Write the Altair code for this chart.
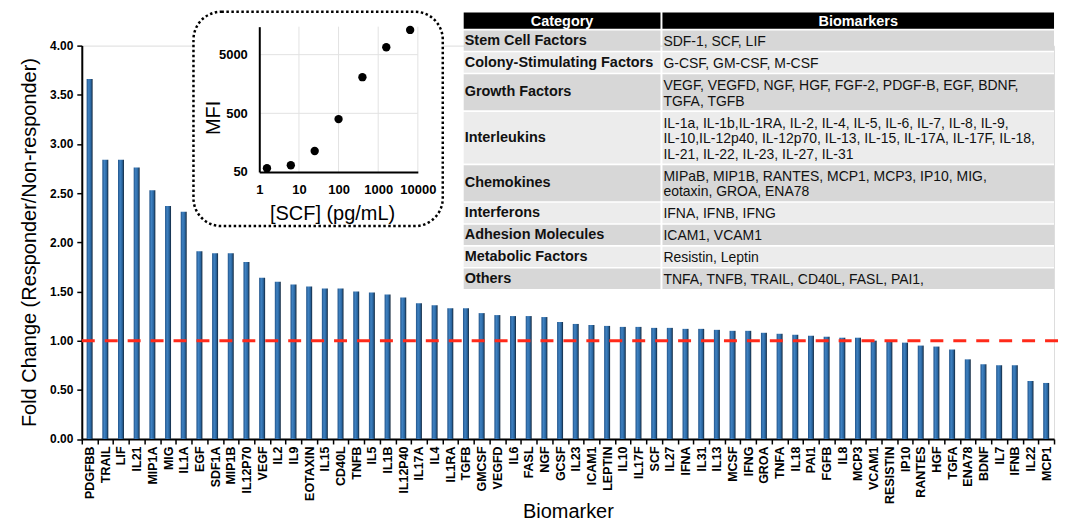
import altair as alt
import pandas as pd

FONT = "Liberation Sans"

# ---------------- main bar data ----------------
biomarkers = ["PDGFBB", "TRAIL", "LIF", "IL21", "MIP1A", "MIG", "IL1A", "EGF", "SDF1A", "MIP1B",
              "IL12P70", "VEGF", "IL2", "IL9", "EOTAXIN", "IL15", "CD40L", "TNFB", "IL5", "IL1B",
              "IL12P40", "IL17A", "IL4", "IL1RA", "TGFB", "GMCSF", "VEGFD", "IL6", "FASL", "NGF",
              "GCSF", "IL23", "ICAM1", "LEPTIN", "IL10", "IL17F", "SCF", "IL27", "IFNA", "IL31",
              "IL13", "MCSF", "IFNG", "GROA", "TNFA", "IL18", "PAI1", "FGFB", "IL8", "MCP3",
              "VCAM1", "RESISTIN", "IP10", "RANTES", "HGF", "TGFA", "ENA78", "BDNF", "IL7", "IFNB",
              "IL22", "MCP1"]
fold_change = [3.66, 2.84, 2.84, 2.76, 2.53, 2.37, 2.31, 1.91, 1.89, 1.89,
               1.80, 1.64, 1.60, 1.57, 1.55, 1.53, 1.53, 1.50, 1.49, 1.47,
               1.44, 1.38, 1.36, 1.33, 1.33, 1.28, 1.26, 1.25, 1.25, 1.24,
               1.19, 1.17, 1.16, 1.15, 1.14, 1.14, 1.13, 1.13, 1.12, 1.12,
               1.11, 1.10, 1.10, 1.08, 1.07, 1.06, 1.05, 1.04, 1.03, 1.03,
               1.00, 1.00, 0.98, 0.95, 0.94, 0.91, 0.81, 0.76, 0.75, 0.75,
               0.59, 0.57]
y_ticks = [0, 0.5, 1.0, 1.5, 2.0, 2.5, 3.0, 3.5, 4.0]
reference_level = [1.0]

# ---------------- inset data ----------------
scf_conc = [1.5625, 6.25, 25, 100, 400, 1600, 6400]
mfi = [58, 65, 114, 398, 2064, 6680, 13200]
inset_x_ticks = [1, 10, 100, 1000, 10000]
inset_y_ticks = [50, 500, 5000]
inset_x_grid = [10, 100, 1000, 10000]
inset_y_grid = [500, 5000]

# ---------------- table data ----------------
table_header = ["Category", "Biomarkers"]
table_categories = ["Stem Cell Factors", "Colony-Stimulating Factors", "Growth Factors",
                    "Interleukins", "Chemokines", "Interferons", "Adhesion Molecules",
                    "Metabolic Factors", "Others"]
table_biomarkers = [
    "SDF-1, SCF, LIF",
    "G-CSF, GM-CSF, M-CSF",
    "VEGF, VEGFD, NGF, HGF, FGF-2, PDGF-B, EGF, BDNF,\nTGFA, TGFB",
    "IL-1a, IL-1b,IL-1RA, IL-2,  IL-4, IL-5, IL-6, IL-7, IL-8, IL-9,\nIL-10,IL-12p40, IL-12p70, IL-13, IL-15, IL-17A, IL-17F, IL-18,\nIL-21, IL-22, IL-23, IL-27, IL-31",
    "MIPaB, MIP1B, RANTES, MCP1, MCP3, IP10, MIG,\neotaxin, GROA, ENA78",
    "IFNA, IFNB, IFNG",
    "ICAM1, VCAM1",
    "Resistin, Leptin",
    "TNFA, TNFB, TRAIL, CD40L, FASL, PAI1,",
]

# =============== main chart ===============
df = pd.DataFrame({"Biomarker": biomarkers, "FC": fold_change})

grad = alt.Gradient(
    gradient="linear",
    stops=[alt.GradientStop(color="#22548a", offset=0),
           alt.GradientStop(color="#3f82c2", offset=0.35),
           alt.GradientStop(color="#2a66a0", offset=0.7),
           alt.GradientStop(color="#122539", offset=1)],
    x1=0, x2=1, y1=0, y2=0)

bars = alt.Chart(df).mark_bar(size=6, color=grad).encode(
    x=alt.X("Biomarker:N", sort=None,
            scale=alt.Scale(paddingInner=0, paddingOuter=0),
            axis=alt.Axis(orient="bottom", title="Biomarker", labelAngle=-90,
                          labelFont=FONT, labelFontSize=12.5, labelFontWeight="bold",
                          labelColor="black", labelPadding=2, tickBand="extent",
                          tickSize=5, tickColor="black", tickWidth=1.5,
                          domainColor="black", domainWidth=2,
                          titleFont=FONT, titleFontSize=20, titleFontWeight="normal",
                          titleColor="black", titleY=78.5, titleBaseline="alphabetic")),
    y=alt.Y("FC:Q", scale=alt.Scale(domain=[0, 4], nice=False, zero=True),
            axis=alt.Axis(orient="left", values=y_ticks, format=".2f", grid=False,
                          title="Fold Change (Responder/Non-responder)",
                          labelFont=FONT, labelFontSize=12, labelFontWeight="bold",
                          labelColor="black", labelPadding=4, tickSize=5,
                          tickColor="black", tickWidth=1.5, domainColor="black",
                          domainWidth=2, titleFont=FONT, titleFontSize=20,
                          titleFontWeight="normal", titleColor="black",
                          titleX=-52, titleY=197, titleBaseline="middle")),
)

ref = alt.Chart(pd.DataFrame({"level": reference_level})).mark_rule(
    color="#ff2a1a", strokeWidth=3, strokeDash=[13, 10]).encode(
    y=alt.Y("level:Q"), x=alt.value(0), x2=alt.value(983))

main = alt.layer(bars, ref)

# =============== inset ===============
xs = alt.Scale(type="log", domain=[1, 10000], range=[178, 337], nice=False)
ys = alt.Scale(type="log", domain=[50, 15000], range=[126.7, -19], nice=False)

x_axis_inset = alt.Axis(orient="bottom", offset=-267.8, values=inset_x_ticks, format="d",
                        grid=False, ticks=False, tickSize=0, labelPadding=12,
                        labelFlush=False, labelOverlap=False, zindex=2,
                        labelFont=FONT, labelFontSize=13, labelFontWeight="bold",
                        labelColor="black", domainColor="black", domainWidth=2,
                        title="[SCF] (pg/mL)", titleFont=FONT, titleFontSize=20,
                        titleFontWeight="normal", titleColor="black",
                        titleX=251, titleY=47.8, titleBaseline="alphabetic")
y_axis_inset = alt.Axis(orient="left", offset=-178, values=inset_y_ticks, format="d",
                        grid=False, ticks=False, tickSize=0, labelPadding=12,
                        labelFlush=False, labelOverlap=False, zindex=2,
                        labelFont=FONT, labelFontSize=13, labelFontWeight="bold",
                        labelColor="black", domainColor="black", domainWidth=2,
                        title="MFI", titleFont=FONT, titleFontSize=20,
                        titleFontWeight="normal", titleColor="black",
                        titleX=-45.5, titleY=72, titleBaseline="middle")

border = alt.Chart(pd.DataFrame({"a": [0]})).mark_rect(
    fill="white", stroke="black", strokeWidth=2.5, strokeDash=[2.5, 2.5],
    cornerRadius=28).encode(
    x=alt.value(112), x2=alt.value(362), y=alt.value(-34), y2=alt.value(181))

gx = alt.Chart(pd.DataFrame({"conc": inset_x_grid, "mfi": [50] * len(inset_x_grid),
                             "hi": [15000] * len(inset_x_grid)})).mark_rule(
    color="#e2e2e2", strokeWidth=1).encode(
    x=alt.X("conc:Q", scale=xs, axis=x_axis_inset),
    y=alt.Y("mfi:Q", scale=ys, axis=y_axis_inset), y2="hi:Q")

gy = alt.Chart(pd.DataFrame({"mfi": inset_y_grid, "conc": [1] * len(inset_y_grid),
                             "hi": [10000] * len(inset_y_grid)})).mark_rule(
    color="#e2e2e2", strokeWidth=1).encode(
    y=alt.Y("mfi:Q", scale=ys, axis=y_axis_inset),
    x=alt.X("conc:Q", scale=xs, axis=x_axis_inset), x2="hi:Q")

pts = alt.Chart(pd.DataFrame({"conc": scf_conc, "mfi": mfi})).mark_circle(
    size=70, color="black", opacity=1).encode(
    x=alt.X("conc:Q", scale=xs, axis=x_axis_inset),
    y=alt.Y("mfi:Q", scale=ys, axis=y_axis_inset),
)

inset = alt.layer(border, gx, gy, pts)

# =============== table ===============
HEADER_H, GAP, PAD = 1.05, 0.1, 0.3
rows = []
texts = []
top = 0.0
bottom = top + HEADER_H
rows.append({"x0": 0.0, "x1": 1.0, "y0": top, "y1": bottom, "shade": "header"})
rows.append({"x0": 1.01, "x1": 3.0, "y0": top, "y1": bottom, "shade": "header"})
header_df = pd.DataFrame({"label": table_header, "xc": [0.5, 2.005],
                          "yc": [(top + bottom) / 2 + 0.1] * 2})
for i, (cat, bio) in enumerate(zip(table_categories, table_biomarkers)):
    n_lines = bio.count("\n") + 1
    top = bottom + GAP
    bottom = top + n_lines + PAD
    shade = "dark" if i % 2 == 0 else "light"
    rows.append({"x0": 0.0, "x1": 1.0, "y0": top, "y1": bottom, "shade": shade})
    rows.append({"x0": 1.01, "x1": 3.0, "y0": top, "y1": bottom, "shade": shade})
    center = (top + bottom) / 2
    texts.append({"cat": cat, "bio": bio, "yc": center,
                  "yb": center - (n_lines - 1) / 2})
total_units = bottom
cells_df = pd.DataFrame(rows)
text_df = pd.DataFrame(texts)

TABLE_TOP, TABLE_BOTTOM = -33.3, 244
line_px = (TABLE_BOTTOM - TABLE_TOP) / total_units

tx = alt.Scale(domain=[0, 3], range=[383, 975], nice=False, zero=False)
ty = alt.Scale(domain=[0, total_units], range=[TABLE_TOP, TABLE_BOTTOM], nice=False, zero=False)

cells = alt.Chart(cells_df).mark_rect().encode(
    x=alt.X("x0:Q", scale=tx, axis=None), x2="x1:Q",
    y=alt.Y("y0:Q", scale=ty, axis=None), y2="y1:Q",
    color=alt.Color("shade:N", legend=None,
                    scale=alt.Scale(domain=["header", "dark", "light"],
                                    range=["#000000", "#d7d7d7", "#ececec"])))

cat_text = alt.Chart(text_df).mark_text(
    align="left", baseline="middle", font=FONT, fontSize=14.5, fontWeight="bold",
    color="#111111", dx=1).encode(
    x=alt.X("x:Q", scale=tx, axis=None), y=alt.Y("yc:Q", scale=ty, axis=None),
    text="cat:N").transform_calculate(x="0")

bio_text = alt.Chart(text_df).mark_text(
    align="left", baseline="middle", font=FONT, fontSize=14, color="#111111",
    lineBreak="\n", lineHeight=line_px, dx=1, dy=1.5).encode(
    x=alt.X("x:Q", scale=tx, axis=None), y=alt.Y("yb:Q", scale=ty, axis=None),
    text="bio:N").transform_calculate(x="1.01")

head_text = alt.Chart(header_df).mark_text(
    align="center", baseline="middle", font=FONT, fontSize=14.5, fontWeight="bold",
    color="white").encode(
    x=alt.X("xc:Q", scale=tx, axis=None), y=alt.Y("yc:Q", scale=ty, axis=None),
    text="label:N")

table = alt.layer(cells, cat_text, bio_text, head_text)

chart = alt.layer(main, inset, table).resolve_scale(
    x="independent", y="independent").properties(
    width=975, height=394.5,
    autosize=alt.AutoSizeParams(type="none"),
    padding={"left": 74, "top": 37, "right": 8, "bottom": 82},
).configure_view(stroke=None).configure(font=FONT, background="white")

chart.save("out.html", embed_options={"renderer": "svg", "actions": False})
